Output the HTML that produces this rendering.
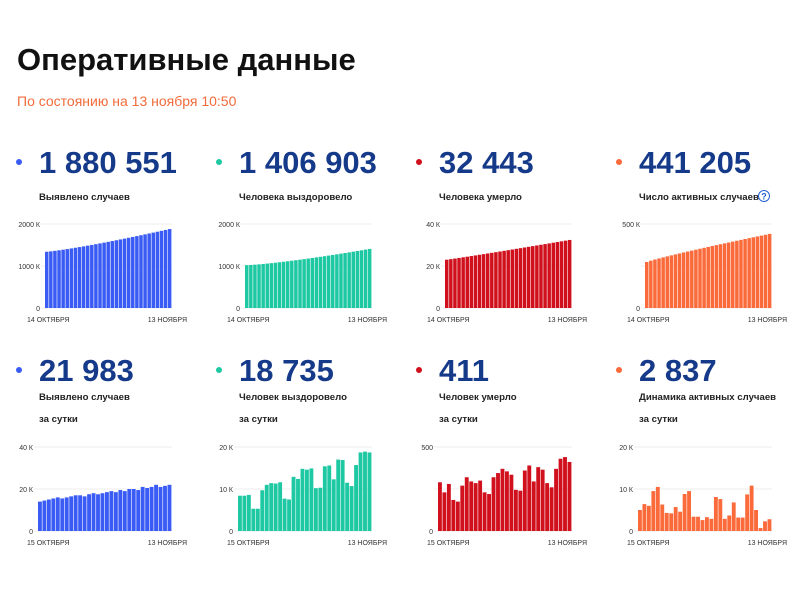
<!DOCTYPE html>
<html><head><meta charset="utf-8">
<style>
body{margin:0;width:800px;height:600px;background:#fff;font-family:"Liberation Sans",sans-serif;position:relative;overflow:hidden}
.t{position:absolute;white-space:nowrap}
</style></head><body>
<div class="t" style="left:17px;top:42px;font-size:31px;font-weight:bold;color:#111">Оперативные данные</div>
<div class="t" style="left:17px;top:93px;font-size:14px;color:#f26b3a">По состоянию на 13 ноября 10:50</div>
<svg id="s" width="800" height="600" style="position:absolute;left:0;top:0"></svg>
<script>
const s=document.getElementById('s');let h='';
const cols=['#3a5cf5','#1ec8a3','#d0101c','#fa6a3a'];
const big=['1 880 551','1 406 903','32 443','441 205','21 983','18 735','411','2 837'];
const lab=[['Выявлено случаев'],['Человека выздоровело'],['Человека умерло'],['Число активных случаев'],['Выявлено случаев','за сутки'],['Человек выздоровело','за сутки'],['Человек умерло','за сутки'],['Динамика активных случаев','за сутки']];
function lin(a,b,n,p){let r=[];for(let i=0;i<n;i++){let t=i/(n-1);r.push(a+(b-a)*Math.pow(t,p||1));}return r;}
const data=[
 [lin(1340,1880,31,1.2),2000,['2000 К','1000 К','0']],
 [lin(1020,1407,31,1.3),2000,['2000 К','1000 К','0']],
 [lin(23,32.4,31,1.05),40,['40 К','20 К','0']],
 [lin(274,441,31,0.9),500,['500 К','','0']],
 [[14,14.5,15,15.5,16,15.5,16,16.5,17,17,16.5,17.5,18,17.5,18,18.5,19,18.5,19.5,19,20,20,19.5,21,20.5,21,22,21,21.5,22],40,['40 К','20 К','0']],
 [[8.4,8.4,8.6,5.3,5.3,9.7,11,11.4,11.3,11.6,7.7,7.5,12.9,12.4,14.8,14.6,14.9,10.2,10.3,15.4,15.6,12.3,17,16.9,11.5,10.7,15.7,18.7,18.9,18.7],20,['20 К','10 К','0']],
 [[290,230,280,185,175,270,320,295,285,300,230,220,320,345,370,355,335,245,240,360,390,295,380,365,285,260,370,430,440,411],500,['500','','0']],
 [[5,6.4,6,9.5,10.5,6.3,4.3,4.2,5.7,4.6,8.8,9.5,3.4,3.4,2.6,3.3,2.9,8.1,7.6,2.9,3.7,6.8,3.2,3.2,8.7,10.8,5,0.7,2.3,2.8],20,['20 К','10 К','0']]
];
for(let k=0;k<8;k++){
 const px=(k%4)*200, row=k>>2, oy=row?223:0, ny=row?208:0, ly=row?200:0;
 h+=`<circle cx="${px+19}" cy="${ny+162}" r="3" fill="${cols[k%4]}"/>`;
 h+=`<text x="${px+39}" y="${ny+173}" font-size="31" font-weight="bold" fill="#163a8a">${big[k]}</text>`;
 lab[k].forEach((l,i)=>h+=`<text x="${px+39}" y="${ly+200+i*22}" font-size="9.6" font-weight="bold" fill="#222">${l}</text>`);
 if(k==3)h+=`<circle cx="764" cy="196" r="5.5" fill="none" stroke="#1f5fd0" stroke-width="1"/><text x="764" y="199.5" font-size="9" font-weight="bold" fill="#1f5fd0" text-anchor="middle">?</text>`;
 const x0=px+(row?38:45), x1=px+172, top=oy+224, bot=oy+308;
 const [v,mx,lb]=data[k];
 [0,1,2].forEach(i=>{const y=top+i*42;h+=`<line x1="${x0-4}" x2="${x1}" y1="${y}" y2="${y}" stroke="#eee"/>`;if(lb[i])h+=`<text x="${x0-5}" y="${y+3}" font-size="7" fill="#333" text-anchor="end">${lb[i]}</text>`;});
 const n=v.length,w=(x1-x0)/n;
 v.forEach((d,i)=>{const bh=d/mx*84;h+=`<rect x="${(x0+i*w).toFixed(2)}" y="${(bot-bh).toFixed(2)}" width="${(w-0.6).toFixed(2)}" height="${bh.toFixed(2)}" fill="${cols[k%4]}"/>`;});
 h+=`<text x="${px+27}" y="${bot+14}" font-size="7" fill="#333">${row?'15':'14'} ОКТЯБРЯ</text>`;
 h+=`<text x="${px+187}" y="${bot+14}" font-size="7" fill="#333" text-anchor="end">13 НОЯБРЯ</text>`;
}
s.innerHTML=h;
</script>
</body></html>
